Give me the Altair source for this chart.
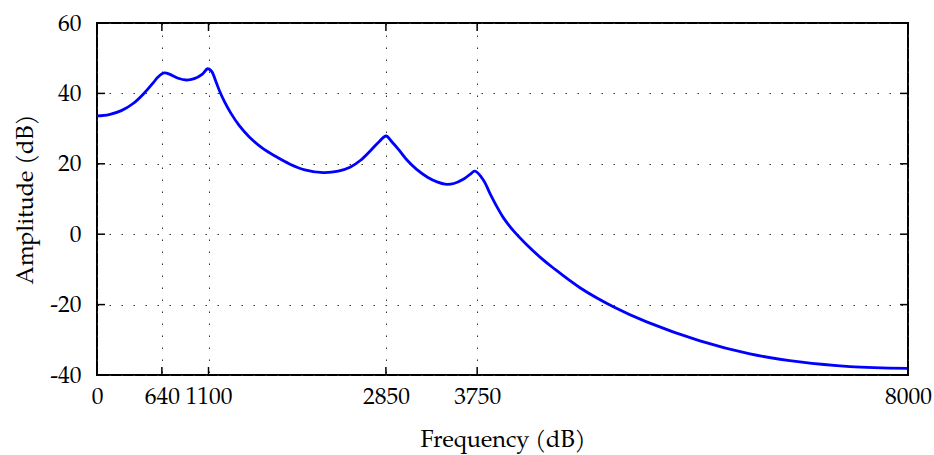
import altair as alt
import pandas as pd

freq = [0, 120, 240, 360, 460, 560, 600, 664, 720, 800, 880, 960, 1040, 1092,
        1130, 1170, 1210, 1260, 1320, 1400, 1500, 1625, 1756, 1904, 2050, 2232,
        2380, 2496, 2600, 2700, 2790, 2851, 2910, 2980, 3060, 3153, 3260, 3360,
        3433, 3520, 3613, 3680, 3729, 3811, 3876, 3943, 4008, 4107, 4239, 4370,
        4501, 4764, 5093, 5422, 5948, 6441, 6934, 7427, 8000]
amp = [33.6, 34.0, 35.1, 37.2, 39.9, 43.2, 44.6, 45.8, 45.4, 44.3, 43.8, 44.2, 45.5, 47.0,
       46.3, 43.6, 40.6, 37.5, 34.4, 31.0, 27.7, 24.6, 22.2, 19.9, 18.3, 17.5,
       17.9, 19.0, 21.0, 23.8, 26.5, 27.9, 26.2, 23.9, 21.0, 18.4, 16.2, 14.8,
       14.2, 14.4, 15.6, 17.0, 17.9, 15.4, 11.6, 7.9, 4.7, 1.0, -3.0, -6.5,
       -9.6, -15.2, -20.6, -24.9, -30.3, -34.0, -36.3, -37.6, -38.1]

x_ticks = [0, 640, 1100, 2850, 3750, 8000]
y_ticks = [-40, -20, 0, 20, 40, 60]

W, H = 811, 352
FONT = "Palatino Linotype, Palatino, TeX Gyre Pagella, Liberation Serif, serif"
FS = 23.5

df = pd.DataFrame({"f": freq, "a": amp})
xt = pd.DataFrame({"f": x_ticks})
yt = pd.DataFrame({"a": y_ticks})

xscale = alt.Scale(domain=[0, 8000], nice=False, zero=False)
yscale = alt.Scale(domain=[-40, 60], nice=False, zero=False)

grid_dash = [1.5, 10.5]

xaxis = alt.Axis(values=x_ticks, grid=True, gridDash=grid_dash, gridColor="#333",
                 gridWidth=1, ticks=False, domain=False, labelFontSize=FS,
                 labelFont=FONT, labelColor="black", labelPadding=9,
                 labelExpr="'' + datum.value", labelFlush=False,
                 titleFont=FONT, titleFontSize=FS, titleFontWeight="normal",
                 titleColor="black", titlePadding=20)
yaxis = alt.Axis(values=y_ticks, grid=True, gridDash=grid_dash, gridColor="#333",
                 gridWidth=1, ticks=False, domain=False, labelFontSize=FS,
                 labelFont=FONT, labelColor="black", labelPadding=16,
                 labelExpr="'' + datum.value",
                 titleFont=FONT, titleFontSize=FS, titleFontWeight="normal",
                 titleColor="black", titlePadding=12)
XT = "Frequency (dB)"
YT = "Amplitude (dB)"

line = alt.Chart(df).mark_line(color="#0000ff", strokeWidth=2.8, interpolate="catmull-rom").encode(
    x=alt.X("f:Q", scale=xscale, title=XT, axis=xaxis),
    y=alt.Y("a:Q", scale=yscale, title=YT, axis=yaxis),
)

tick_style = dict(color="black", strokeWidth=1.5)
xb = alt.Chart(xt).mark_rule(**tick_style).encode(
    x=alt.X("f:Q", scale=xscale, title=XT, axis=xaxis), y=alt.value(H), y2=alt.value(H - 8))
xtop = alt.Chart(xt).mark_rule(**tick_style).encode(
    x=alt.X("f:Q", scale=xscale, title=XT, axis=xaxis), y=alt.value(0), y2=alt.value(8))
yl = alt.Chart(yt).mark_rule(**tick_style).encode(
    y=alt.Y("a:Q", scale=yscale, title=YT, axis=yaxis), x=alt.value(0), x2=alt.value(8))
yr = alt.Chart(yt).mark_rule(**tick_style).encode(
    y=alt.Y("a:Q", scale=yscale, title=YT, axis=yaxis), x=alt.value(W), x2=alt.value(W - 8))

chart = alt.layer(line, xb, xtop, yl, yr).properties(
    width=W, height=H,
    autosize=alt.AutoSizeParams(type="none"),
    padding={"left": 97, "top": 23, "right": 26, "bottom": 80},
    background="white",
).configure_view(stroke="black", strokeWidth=2)

chart.save("out.html", embed_options={"renderer": "svg", "actions": False})
